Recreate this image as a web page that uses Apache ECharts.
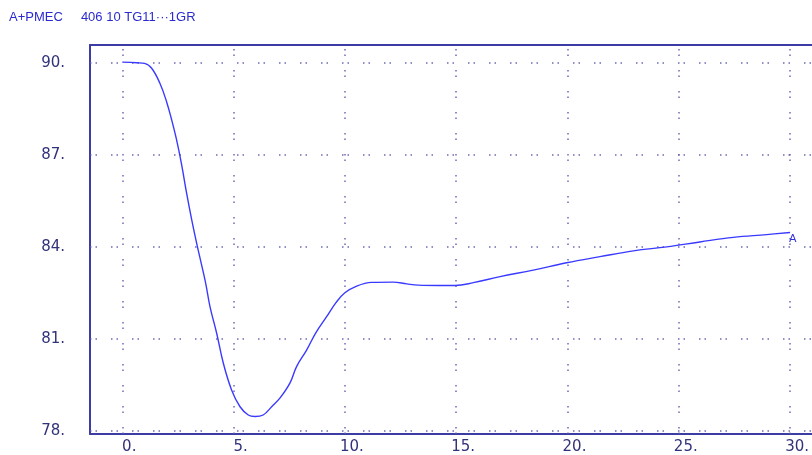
<!DOCTYPE html>
<html>
<head>
<meta charset="utf-8">
<script src="https://cdn.jsdelivr.net/npm/echarts@6/dist/echarts.min.js"></script>
<style>
html,body{margin:0;padding:0;background:#fff;}
#c{width:812px;height:455px;}
</style>
</head>
<body>
<div id="c"></div>
<script>
const titleText = 'A+PMEC     406 10 TG11\u00B7\u00B7\u00B71GR';
const xTicks = [0, 5, 10, 15, 20, 25, 30];
const xTickLabels = ['0.', '5.', '10.', '15.', '20.', '25.', '30.'];
const yTicks = [78, 81, 84, 87, 90];
const yTickLabels = ['78.', '81.', '84.', '87.', '90.'];
const endLabel = 'A';
const xs = [0, 0.65, 1.0, 1.32, 1.69, 1.99, 2.22, 2.44, 2.67, 2.89, 3.12, 3.34, 3.55, 3.75, 3.94, 4.24, 4.54, 4.91, 5.29, 5.66, 5.96, 6.33, 6.71, 7.08, 7.53, 7.83, 8.28, 8.7, 9.18, 9.6, 10.0, 10.53, 11.2, 12.17, 12.78, 13.3, 14.2, 14.95, 15.77, 16.97, 18.46, 19.96, 21.46, 22.96, 24.46, 25.95, 27.45, 28.95, 30.0];
const ys = [90.03, 90.01, 89.99, 89.83, 89.34, 88.74, 88.14, 87.49, 86.67, 85.75, 84.88, 84.12, 83.45, 82.8, 82.05, 81.18, 80.2, 79.33, 78.78, 78.51, 78.46, 78.51, 78.78, 79.06, 79.55, 80.09, 80.63, 81.2, 81.72, 82.18, 82.5, 82.72, 82.84, 82.85, 82.79, 82.75, 82.74, 82.74, 82.83, 83.03, 83.24, 83.48, 83.68, 83.87, 84.0, 84.16, 84.31, 84.40, 84.47];

const labelColor = '#32327a';
const frameColor = '#3c3ca4';
const dotStyle = {color: '#5c5cb0', width: 1.5, type: [1.5, 4, 1.5, 14], opacity: 0.9};

const data = xs.map((x, i) => [x, ys[i]]);

const chart = echarts.init(document.getElementById('c'), null, {renderer: 'canvas'});
chart.setOption({
  animation: false,
  backgroundColor: '#ffffff',
  title: {
    text: titleText, left: 9, top: 11, padding: 0,
    textStyle: {fontFamily: 'Liberation Sans', fontSize: 13, fontWeight: 'normal', color: '#2a2ad0'}
  },
  grid: {left: 90, top: 45, bottom: 21, right: 0, show: false, containLabel: false},
  xAxis: [{
    type: 'value', min: -1.45, max: 30.98, position: 'bottom',
    axisLine: {show: true, onZero: false, lineStyle: {color: frameColor, width: 2}},
    axisTick: {show: false}, splitLine: {show: false},
    axisLabel: {
      customValues: xTicks, margin: 6,
      formatter: v => xTickLabels[xTicks.indexOf(v)] || '',
      color: labelColor, fontFamily: 'DejaVu Sans', fontSize: 15, padding: [0, 0, 0, 14]
    }
  }, {
    type: 'value', min: -1.45, max: 30.98, position: 'top',
    axisLine: {show: true, onZero: false, lineStyle: {color: frameColor, width: 2}},
    axisTick: {show: false}, splitLine: {show: false}, axisLabel: {show: false}
  }],
  yAxis: {
    type: 'value', min: 77.89, max: 90.59,
    axisLine: {show: true, onZero: false, lineStyle: {color: frameColor, width: 2}},
    axisTick: {show: false}, splitLine: {show: false},
    axisLabel: {
      customValues: yTicks, margin: 25,
      formatter: v => yTickLabels[yTicks.indexOf(v)] || '',
      color: labelColor, fontFamily: 'DejaVu Sans', fontSize: 15
    }
  },
  series: [{
    type: 'line', data: data, smooth: 0.4, showSymbol: false, symbol: 'none',
    lineStyle: {color: '#3a3aff', width: 1.4},
    z: 5,
    endLabel: {show: true, formatter: endLabel, distance: 0, offset: [-1, 7], color: '#3030e0', fontSize: 11, fontFamily: 'DejaVu Sans'},
    markLine: {
      silent: true, symbol: 'none', label: {show: false},
      lineStyle: dotStyle,
      data: xTicks.map(v => ({xAxis: v})).concat(yTicks.map(v => ({yAxis: v})))
    }
  }]
});
</script>
</body>
</html>
